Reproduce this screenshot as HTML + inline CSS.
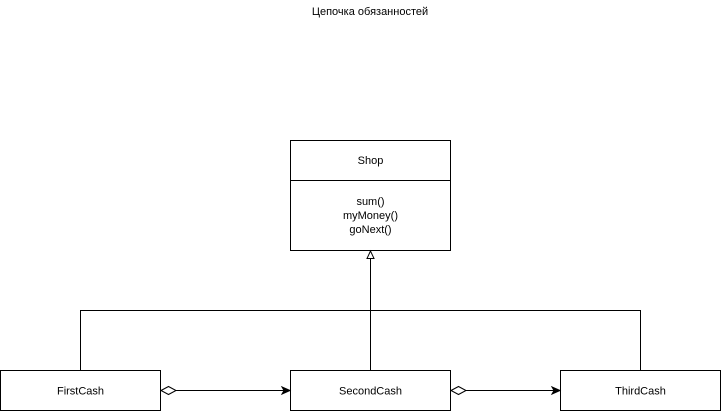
<!DOCTYPE html>
<html><head><style>body{margin:0;background:#fff}</style></head><body>
<svg width="721" height="411" xmlns="http://www.w3.org/2000/svg" font-family="Liberation Sans, sans-serif" font-size="11" fill="#000">
<text x="370" y="15" text-anchor="middle">Цепочка обязанностей</text>
<g fill="#fff" stroke="#000" stroke-width="1">
<rect x="290.5" y="140.5" width="160" height="110"/>
<line x1="290.5" y1="180.5" x2="450.5" y2="180.5"/>
<rect x="0.5" y="370.5" width="160" height="40"/>
<rect x="290.5" y="370.5" width="160" height="40"/>
<rect x="560.5" y="370.5" width="160" height="40"/>
<polyline fill="none" points="80.5,370 80.5,310.5 640.5,310.5 640.5,370"/>
<line x1="370.5" y1="370" x2="370.5" y2="258"/>
<polygon points="370.5,251 367,258.5 374,258.5"/>
<line x1="176" y1="390.5" x2="284" y2="390.5"/>
<line x1="466" y1="390.5" x2="554" y2="390.5"/>
<polygon points="161,390.5 168.5,386.5 176,390.5 168.5,394.5"/>
<polygon points="451,390.5 458.5,386.5 466,390.5 458.5,394.5"/>
</g>
<polygon points="290,390.5 282,387 284,390.5 282,394" fill="#000" stroke="#000"/>
<polygon points="560,390.5 552,387 554,390.5 552,394" fill="#000" stroke="#000"/>
<g text-anchor="middle">
<text x="370.5" y="164">Shop</text>
<text x="370.5" y="205">sum()</text>
<text x="370.5" y="219">myMoney()</text>
<text x="370.5" y="233">goNext()</text>
<text x="80.5" y="394.5">FirstCash</text>
<text x="370.5" y="394.5">SecondCash</text>
<text x="640.5" y="394.5">ThirdCash</text>
</g>
</svg>
</body></html>
